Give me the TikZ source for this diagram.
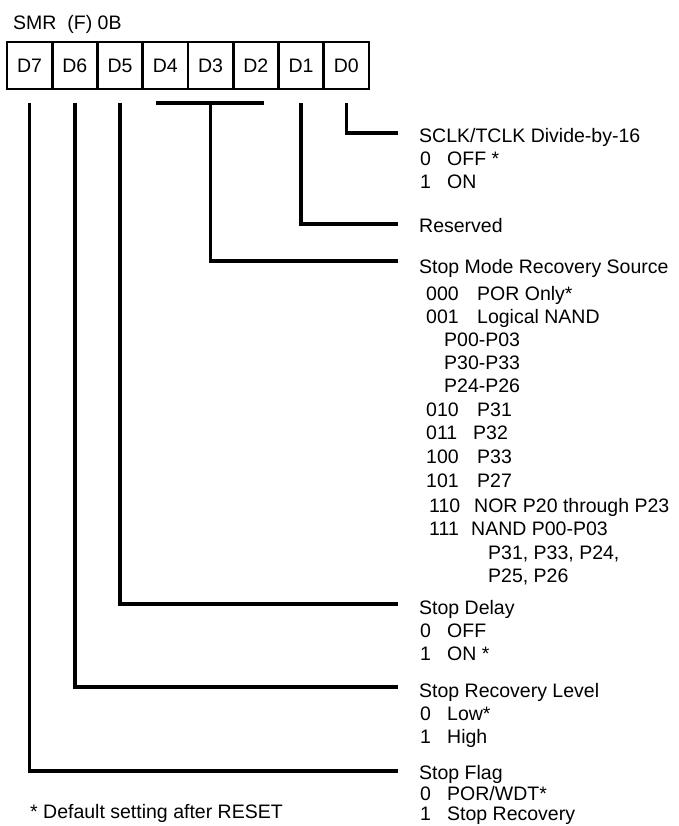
\documentclass[tikz,border=0pt]{standalone}
\usepackage{fontspec}
\setmainfont{Liberation Sans}
\newcommand\cdx[3]{\makebox[#1][l]{#2}#3}
\begin{document}
\begin{tikzpicture}[x=1pt,y=-1pt,
  txt/.style={anchor=west,inner sep=0pt,text height=14pt,text depth=0pt,font=\fontsize{19.5}{23}\selectfont},
  cell/.style={draw,line width=2.8pt,minimum width=45.25pt,minimum height=47pt,inner sep=0pt,font=\fontsize{19.5}{23}\selectfont},
  lead/.style={line width=3.6pt}]
\useasboundingbox (0,0) rectangle (678,826);

% title
\node[txt] (title) at (13,23) {SMR\ \ (F) 0B};

% register cells
\foreach \n [count=\i from 0] in {7,6,5,4,3,2,1,0}{
  \node[cell] (d\n) at ({7+45.25*\i+22.625},65.5) {D\n};
}

% labels
\node[txt] (l0) at (419,136) {SCLK/TCLK Divide-by-16};
\node[txt] (l0a) at (420,159) {\cdx{27pt}{0}{OFF *}};
\node[txt] (l0b) at (420,182) {\cdx{27pt}{1}{ON}};

\node[txt] (l1) at (419,226) {Reserved};

\node[txt] (l2) at (419,266) {Stop Mode Recovery Source};
\node[txt] (s0) at (426,293) {\cdx{51pt}{000}{POR Only*}};
\node[txt] (s1) at (426,316) {\cdx{51pt}{001}{Logical NAND}};
\node[txt] (s1a) at (444,339) {P00-P03};
\node[txt] (s1b) at (444,362) {P30-P33};
\node[txt] (s1c) at (444,385) {P24-P26};
\node[txt] (s2) at (426,409) {\cdx{51pt}{010}{P31}};
\node[txt] (s3) at (426,432) {\cdx{47pt}{011}{P32}};
\node[txt] (s4) at (426,456) {\cdx{51pt}{100}{P33}};
\node[txt] (s5) at (426,480) {\cdx{51pt}{101}{P27}};
\node[txt] (s6) at (429,505) {\cdx{45pt}{110}{NOR P20 through P23}};
\node[txt] (s7) at (429,528) {\cdx{42pt}{111}{NAND P00-P03}};
\node[txt] (s7a) at (488,552) {P31, P33, P24,};
\node[txt] (s7b) at (488,575) {P25, P26};

\node[txt] (l5) at (419,607) {Stop Delay};
\node[txt] (l5a) at (420,630) {\cdx{27pt}{0}{OFF}};
\node[txt] (l5b) at (420,653) {\cdx{27pt}{1}{ON *}};

\node[txt] (l6) at (419,690) {Stop Recovery Level};
\node[txt] (l6a) at (420,713) {\cdx{27pt}{0}{Low*}};
\node[txt] (l6b) at (420,736) {\cdx{27pt}{1}{High}};

\node[txt] (l7) at (419,772) {Stop Flag};
\node[txt] (l7a) at (420,793) {\cdx{27pt}{0}{POR/WDT*}};
\node[txt] (l7b) at (420,813) {\cdx{27pt}{1}{Stop Recovery}};

\node[txt] (note) at (30,811) {* Default setting after RESET};

% leader end points
\coordinate (e0) at (398,133);
\coordinate (e1) at (398,224);
\coordinate (e2) at (398,261);
\coordinate (e5) at (398,604);
\coordinate (e6) at (398,687);
\coordinate (e7) at (398,771);
\coordinate (bl) at (156,103);
\coordinate (br) at (264,103);

% leaders
\draw[lead] ([yshift=-13pt]d7.south) |- (e7);
\draw[lead] ([yshift=-13pt]d6.south) |- (e6);
\draw[lead] ([yshift=-13pt]d5.south) |- (e5);
\draw[lead] (bl) -- (br);
\draw[lead] (bl -| d3.south) |- (e2);
\draw[lead] ([yshift=-13pt]d1.south) |- (e1);
\draw[lead] ([yshift=-13pt]d0.south) |- (e0);
\end{tikzpicture}
\end{document}
